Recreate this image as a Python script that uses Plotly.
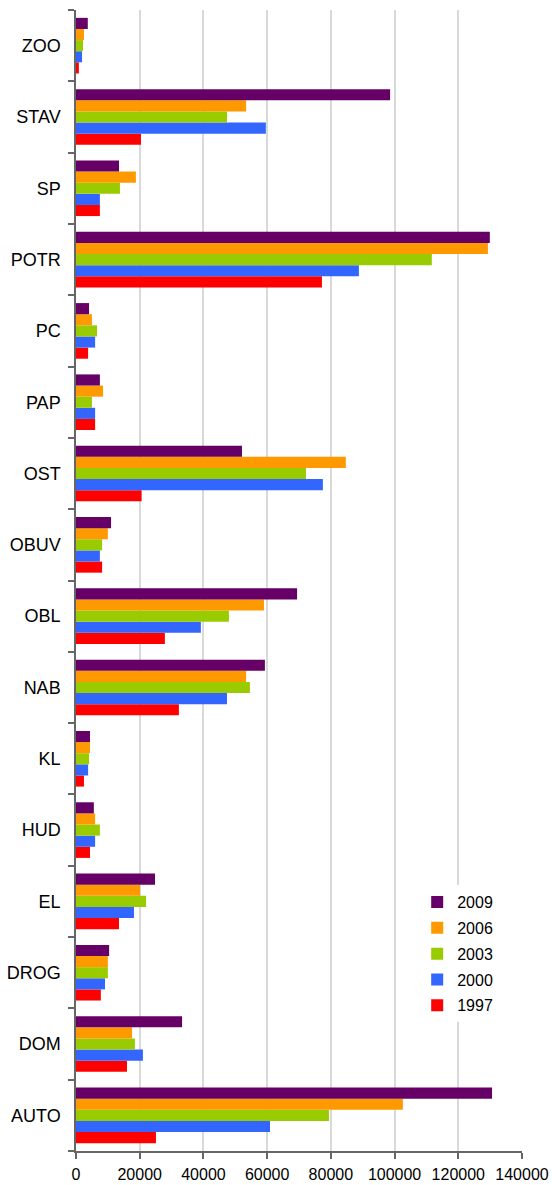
import plotly.graph_objects as go

# categories listed bottom -> top
categories = ["AUTO", "DOM", "DROG", "EL", "HUD", "KL", "NAB", "OBL",
              "OBUV", "OST", "PAP", "PC", "POTR", "SP", "STAV", "ZOO"]

v1997 = [25100, 16000, 7800, 13500, 4400, 2500, 32300, 27900,
         8200, 20600, 6000, 3800, 77200, 7500, 20400, 900]
v2000 = [60900, 21000, 9100, 18200, 6000, 3800, 47400, 39200,
         7500, 77500, 6000, 6000, 88800, 7500, 59600, 1900]
v2003 = [79400, 18500, 10000, 22000, 7500, 4100, 54600, 48000,
         8200, 72200, 5000, 6600, 111700, 13800, 47400, 2200]
v2006 = [102600, 17600, 10000, 20100, 6000, 4400, 53400, 59000,
         10000, 84700, 8500, 5000, 129300, 18800, 53400, 2500]
v2009 = [130600, 33300, 10400, 24800, 5600, 4400, 59300, 69400,
         11000, 52100, 7500, 4100, 129900, 13500, 98600, 3700]

# name, values, colour, legend rank (2009 listed first)
series = [
    ("1997", v1997, "#ff0000", 5),
    ("2000", v2000, "#3366ff", 4),
    ("2003", v2003, "#99cc00", 3),
    ("2006", v2006, "#ff9900", 2),
    ("2009", v2009, "#660066", 1),
]

fig = go.Figure()
for name, vals, color, rank in series:
    fig.add_trace(go.Bar(
        y=categories, x=vals, name=name, orientation="h",
        marker=dict(color=color, line=dict(width=0)),
        legendgroup=name, legendrank=rank,
    ))

font = "Arial, Liberation Sans, sans-serif"

fig.update_layout(
    width=552, height=1185,
    barmode="group", bargap=0.22, bargroupgap=0,
    plot_bgcolor="white", paper_bgcolor="white",
    margin=dict(l=76, r=30, t=10, b=34),
    font=dict(family=font, color="#000000"),
    legend=dict(
        x=0.765, y=0.233, xanchor="left", yanchor="top",
        bgcolor="white", traceorder="grouped",
        tracegroupgap=2, font=dict(size=16),
        itemwidth=30,
    ),
    showlegend=True,
)

fig.update_xaxes(
    range=[0, 140000], dtick=20000, tickformat="d",
    showgrid=True, gridcolor="#d9d9d9", gridwidth=1.5,
    showline=True, linecolor="#666666", linewidth=1.5,
    ticks="outside", ticklen=6, tickcolor="#666666", tickwidth=1.5,
    tickfont=dict(size=16), ticklabelstandoff=2,
    zeroline=False, automargin=False,
)
fig.update_yaxes(
    categoryorder="array", categoryarray=categories,
    showline=True, linecolor="#666666", linewidth=1.5,
    ticks="outside", ticklen=6, tickcolor="#666666", tickwidth=1.5,
    tickson="boundaries", tickfont=dict(size=18),
    ticklabelstandoff=10, showgrid=False, automargin=False,
)

# drop the default 8px body margin so the figure fills the window
fig.write_html(
    "out.html",
    config={"displayModeBar": False},
    post_script="document.body.style.margin = '0';",
)
